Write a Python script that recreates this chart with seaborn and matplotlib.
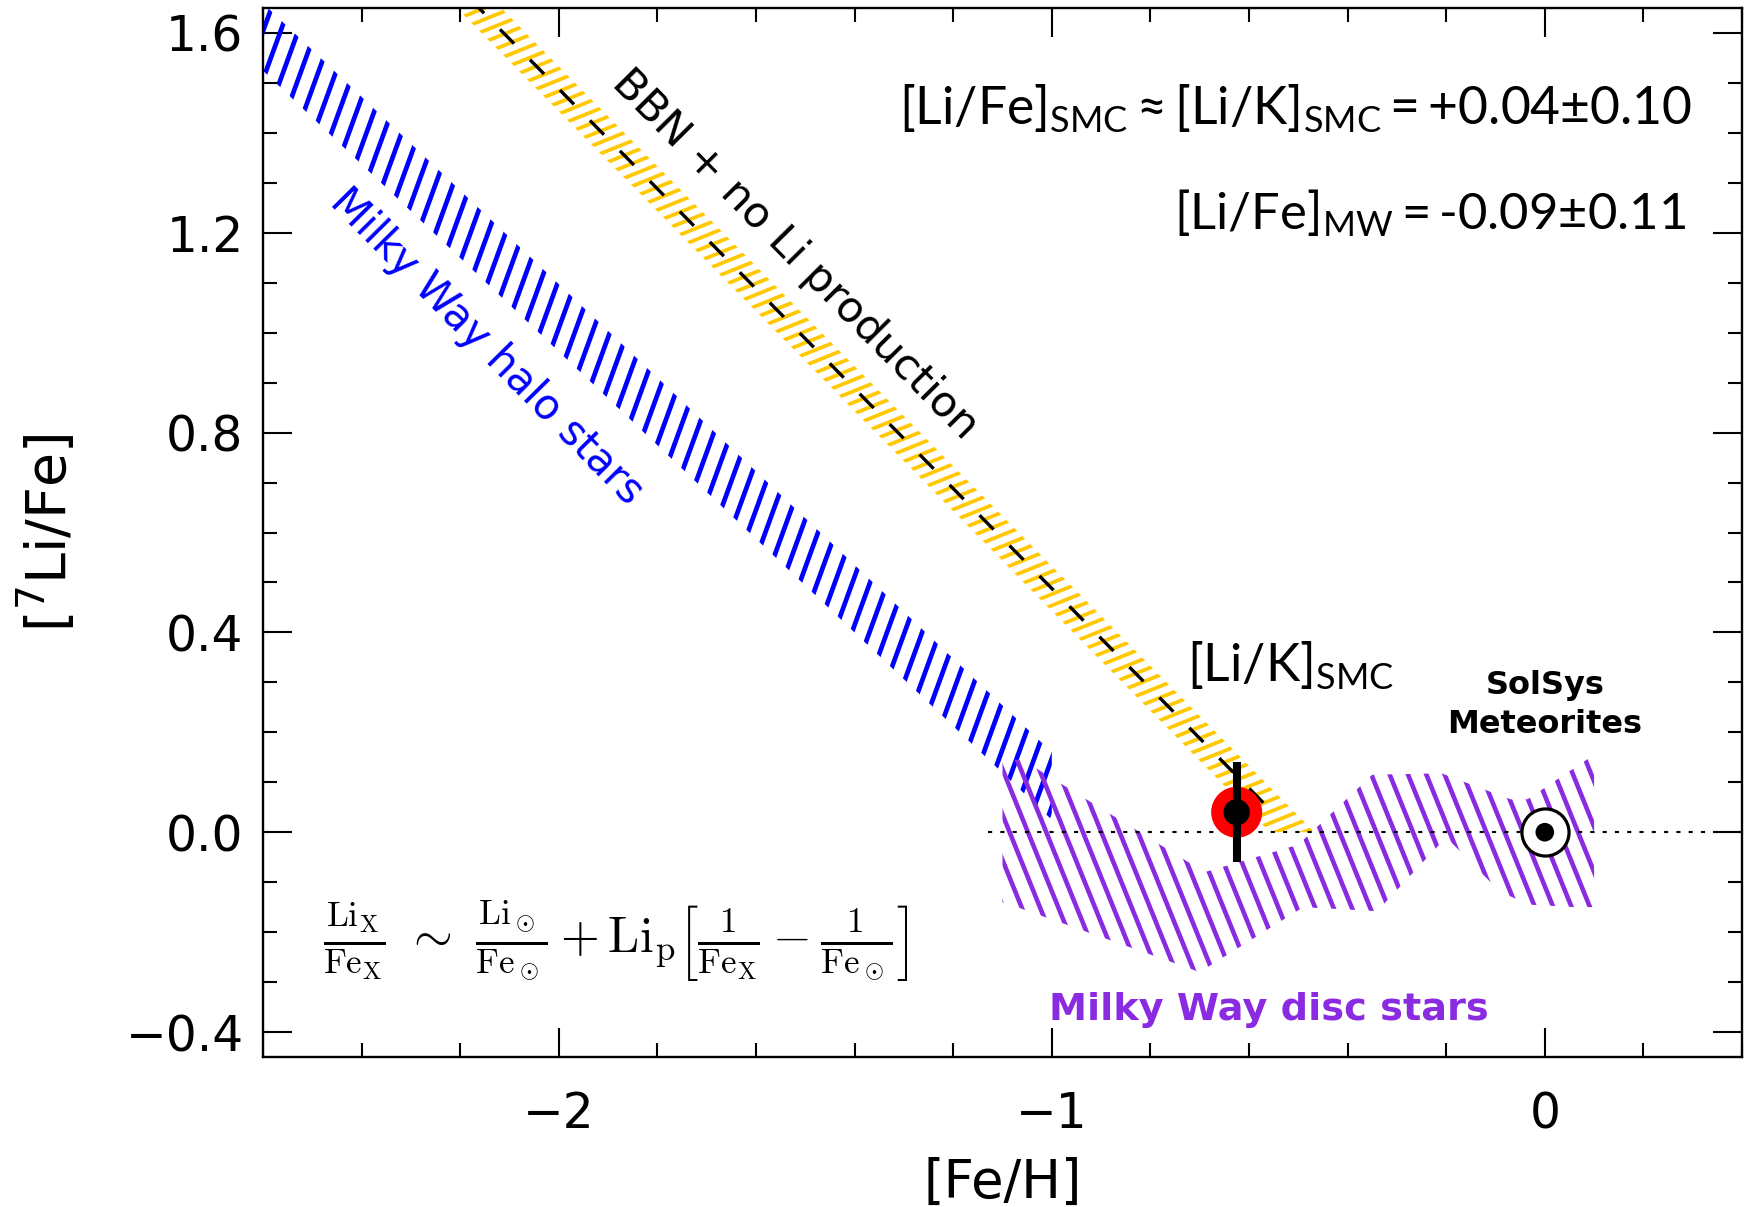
import numpy as np
import matplotlib
matplotlib.use("Agg")
import matplotlib.pyplot as plt
import seaborn as sns
from matplotlib.patches import Polygon
from matplotlib.collections import LineCollection
from matplotlib.ticker import FixedLocator, MultipleLocator

# ---------------- data ----------------
# BBN + no Li production (slope -1 line) and its uncertainty band
bbn_x = [-2.75, -0.54]
bbn_y = [2.238, 0.028]
bbn_band_x = [-2.40, -0.467, -0.557, -2.40]
bbn_band_y = [1.933, 0.000, 0.000, 1.843]

# Milky Way halo stars band
halo_x = [-2.75, -1.00, -1.00, -2.75]
halo_y = [1.800, 0.160, 0.025, 1.665]

# Milky Way disc stars region
disc_x = [-1.10, -1.06, -0.69, -0.50, -0.35, -0.21, -0.07, -0.035, 0.10,
          0.10, 0.06, -0.03, -0.09, -0.20, -0.34, -0.49, -0.70, -1.07, -1.10]
disc_y = [0.145, 0.145, -0.08, -0.025, 0.115, 0.118, 0.066, 0.066, 0.155,
          -0.150, -0.150, -0.145, -0.120, -0.010, -0.158, -0.150, -0.280, -0.150, -0.140]

# SMC measurement
smc_feh = [-0.625]
smc_lik = [0.04]
smc_err = [0.10]

# Sun / meteorites
sun_feh = [0.0]
sun_life = [0.0]

zero_x = [-1.13, 0.40]
zero_y = [0.0, 0.0]

xticks_major = [-2, -1, 0]
xtick_labels = ["\u22122", "\u22121", "0"]
yticks_major = [-0.4, 0.0, 0.4, 0.8, 1.2, 1.6]
ytick_labels = ["\u22120.4", "0.0", "0.4", "0.8", "1.2", "1.6"]

# ---------------- style ----------------
sns.set_theme(style="ticks")
plt.rcParams["font.family"] = ["DejaVu Sans"]
plt.rcParams["mathtext.fontset"] = "custom"
plt.rcParams["mathtext.rm"] = "Lato"
plt.rcParams["mathtext.it"] = "Lato:italic"
plt.rcParams["mathtext.bf"] = "Lato:bold"
plt.rcParams["text.color"] = "black"
plt.rcParams["axes.labelcolor"] = "black"
plt.rcParams["xtick.color"] = "black"
plt.rcParams["ytick.color"] = "black"
plt.rcParams["xtick.labelcolor"] = "black"
plt.rcParams["ytick.labelcolor"] = "black"

fig = plt.figure(figsize=(17.48, 12.07), dpi=100)
fig.patch.set_facecolor("white")
ax = fig.add_axes([263 / 1748, 150 / 1207, 1479 / 1748, 1049 / 1207])
ax.set_facecolor("white")
ax.set_xlim(-2.6, 0.4)
ax.set_ylim(-0.45, 1.65)

BLUE = "#0000FF"
GOLD = "#FFC800"
PURPLE = "#8A2BE2"


def hatch_region(xs, ys, color, angle_deg, spacing_px, lw_pt, z=2):
    pts = np.column_stack([xs, ys])
    poly = Polygon(pts, closed=True, facecolor="none", edgecolor="none")
    ax.add_patch(poly)
    disp = ax.transData.transform(pts)
    c = disp.mean(axis=0)
    R = np.hypot(*(disp - c).T).max() + spacing_px
    th = np.radians(angle_deg)
    d = np.array([np.cos(th), np.sin(th)])
    n = np.array([-np.sin(th), np.cos(th)])
    inv = ax.transData.inverted()
    segs = []
    for o in np.arange(-R, R + spacing_px, spacing_px):
        p0 = c + n * o - d * R
        p1 = c + n * o + d * R
        segs.append(inv.transform(np.array([p0, p1])))
    lc = LineCollection(segs, colors=color, linewidths=lw_pt, capstyle="butt", zorder=z)
    ax.add_collection(lc, autolim=False)
    lc.set_clip_path(poly)
    lc.set_clip_box(ax.bbox)


hatch_region(halo_x, halo_y, BLUE, 70, 16.5, 3.4)
hatch_region(bbn_band_x, bbn_band_y, GOLD, 22, 10.5, 2.7)
hatch_region(disc_x, disc_y, PURPLE, -68, 17.0, 3.3)

# BBN dashed line
sns.lineplot(x=bbn_x, y=bbn_y, ax=ax, color="black", lw=2.4,
             linestyle=(0, (6.0, 6.8)), zorder=3, sort=False)
# zero line
sns.lineplot(x=zero_x, y=zero_y, ax=ax, color="black", lw=1.5,
             linestyle=(0, (2.0, 3.9)), zorder=3, sort=False)

# SMC point
sns.scatterplot(x=smc_feh, y=smc_lik, ax=ax, s=1350, color="#FF0000",
                edgecolor="none", zorder=5)
ax.errorbar(smc_feh, smc_lik, yerr=smc_err, fmt="none", ecolor="black",
            elinewidth=5.8, capsize=0, zorder=6)
sns.scatterplot(x=smc_feh, y=smc_lik, ax=ax, s=360, color="black",
                edgecolor="none", zorder=7)

# Sun symbol
sns.scatterplot(x=sun_feh, y=sun_life, ax=ax, s=1150, color="white",
                edgecolor="black", linewidth=2.3, zorder=5)
sns.scatterplot(x=sun_feh, y=sun_life, ax=ax, s=180, color="black",
                edgecolor="none", zorder=6)

# ---------------- axes ----------------
ax.xaxis.set_major_locator(FixedLocator(xticks_major))
ax.xaxis.set_minor_locator(MultipleLocator(0.2))
ax.yaxis.set_major_locator(FixedLocator(yticks_major))
ax.yaxis.set_minor_locator(MultipleLocator(0.1))
ax.set_xticklabels(xtick_labels)
ax.set_yticklabels(ytick_labels)
ax.tick_params(which="both", direction="in", top=True, right=True,
               color="black", labelcolor="black")
ax.tick_params(which="major", length=21, width=1.5)
ax.tick_params(which="minor", length=10, width=1.5)
ax.tick_params(axis="x", which="major", labelsize=35, pad=24)
ax.tick_params(axis="y", which="major", labelsize=35, pad=14)
for sp in ax.spines.values():
    sp.set_linewidth(1.7)
    sp.set_color("black")

ax.set_xlabel("[Fe/H]", fontsize=38, color="black")
ax.xaxis.set_label_coords(0.5, -0.095)
ax.set_ylabel("[$^{7}$Li/Fe]", fontsize=40, color="black", math_fontfamily="dejavusans")
ax.yaxis.set_label_coords(-0.125, 0.5)

# ---------------- annotations ----------------
ax.text(-1.521, 1.157, "BBN + no Li production", rotation=-45.3,
        rotation_mode="anchor", ha="center", va="center", fontsize=31, color="black")
ax.text(-2.146, 0.973, "Milky Way halo stars", rotation=-45.3,
        rotation_mode="anchor", ha="center", va="center", fontsize=30, color=BLUE)
ax.text(0.299, 1.415,
        r"$[\mathrm{Li/Fe}]_{\mathrm{SMC}}\approx[\mathrm{Li/K}]_{\mathrm{SMC}}={+}0.04{\pm}0.10$",
        ha="right", va="baseline", fontsize=37.2, color="black")
ax.text(0.287, 1.208,
        "$[\\mathrm{Li/Fe}]_{\\mathrm{MW}}=\\mathrm{\u2010}0.09{\\pm}0.11$",
        ha="right", va="baseline", fontsize=36.5, color="black")
ax.text(-0.726, 0.301, r"$[\mathrm{Li/K}]_{\mathrm{SMC}}$",
        ha="left", va="baseline", fontsize=37.2, color="black")
ax.text(0.0, 0.255, "SolSys\nMeteorites", ha="center", va="center",
        fontsize=23, fontweight="bold", color="black", linespacing=1.35)
ax.text(-0.56, -0.375, "Milky Way disc stars", ha="center", va="baseline",
        fontsize=27.5, fontweight="bold", color=PURPLE)
ax.text(-2.478, -0.219,
        r"$\frac{\mathrm{Li_X}}{\mathrm{Fe_X}}\ \sim\ \frac{\mathrm{Li}_\odot}{\mathrm{Fe}_\odot}"
        r"+\mathrm{Li_p}\left[\frac{1}{\mathrm{Fe_X}}-\frac{1}{\mathrm{Fe}_\odot}\right]$",
        ha="left", va="center", fontsize=36, color="black", math_fontfamily="cm")

fig.savefig("out.png", dpi=100, facecolor="white")
